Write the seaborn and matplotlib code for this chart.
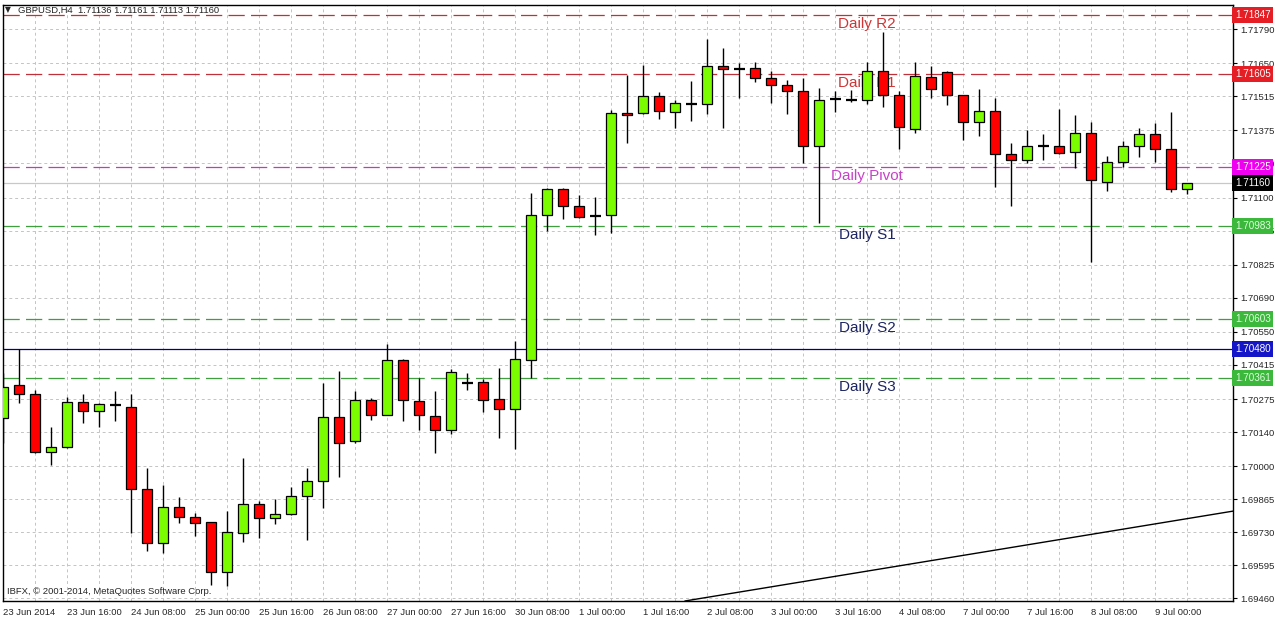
import matplotlib
matplotlib.use("Agg")
import matplotlib.pyplot as plt
import matplotlib.transforms as mtransforms
import numpy as np
import seaborn as sns

# GBPUSD H4 candles, 23 Jun 2014 00:00 .. 9 Jul 2014 08:00
opens = [1.70197, 1.70332, 1.70296, 1.70058, 1.70078, 1.70263, 1.70226, 1.70250, 1.70242, 1.69906,
         1.69685, 1.69833, 1.69792, 1.69771, 1.69567, 1.69726, 1.69845, 1.69788, 1.69804, 1.69878,
         1.69939, 1.70201, 1.70103, 1.70271, 1.70210, 1.70435, 1.70267, 1.70205, 1.70148, 1.70341,
         1.70345, 1.70275, 1.70234, 1.70435, 1.71029, 1.71135, 1.71065, 1.71024, 1.71029, 1.71446,
         1.71446, 1.71516, 1.71450, 1.71483, 1.71483, 1.71639, 1.71626, 1.71630, 1.71590, 1.71561,
         1.71536, 1.71311, 1.71504, 1.71499, 1.71499, 1.71618, 1.71520, 1.71381, 1.71594, 1.71614,
         1.71520, 1.71409, 1.71454, 1.71278, 1.71254, 1.71311, 1.71311, 1.71287, 1.71364, 1.71164,
         1.71246, 1.71311, 1.71360, 1.71299, 1.71136]
highs = [1.70382, 1.70480, 1.70312, 1.70160, 1.70283, 1.70296, 1.70259, 1.70308, 1.70296, 1.69992,
         1.69923, 1.69874, 1.69808, 1.69772, 1.69816, 1.70033, 1.69857, 1.69866, 1.69915, 1.69992,
         1.70341, 1.70390, 1.70308, 1.70279, 1.70500, 1.70437, 1.70361, 1.70308, 1.70398, 1.70382,
         1.70357, 1.70402, 1.70513, 1.71119, 1.71139, 1.71139, 1.71110, 1.71102, 1.71458, 1.71602,
         1.71643, 1.71532, 1.71499, 1.71577, 1.71749, 1.71712, 1.71651, 1.71655, 1.71618, 1.71581,
         1.71590, 1.71549, 1.71536, 1.71540, 1.71655, 1.71778, 1.71536, 1.71655, 1.71639, 1.71618,
         1.71522, 1.71545, 1.71508, 1.71323, 1.71377, 1.71360, 1.71463, 1.71438, 1.71409, 1.71270,
         1.71332, 1.71385, 1.71405, 1.71450, 1.71161]
lows = [1.70095, 1.70259, 1.70055, 1.70005, 1.70075, 1.70177, 1.70160, 1.70185, 1.69726, 1.69653,
        1.69644, 1.69767, 1.69714, 1.69513, 1.69509, 1.69689, 1.69706, 1.69763, 1.69800, 1.69698,
        1.69829, 1.69956, 1.70095, 1.70189, 1.70208, 1.70185, 1.70148, 1.70054, 1.70132, 1.70312,
        1.70222, 1.70115, 1.70070, 1.70361, 1.70963, 1.71012, 1.71018, 1.70947, 1.70955, 1.71323,
        1.71444, 1.71422, 1.71385, 1.71413, 1.71442, 1.71385, 1.71508, 1.71573, 1.71487, 1.71442,
        1.71241, 1.70996, 1.71450, 1.71491, 1.71483, 1.71471, 1.71299, 1.71364, 1.71508, 1.71479,
        1.71336, 1.71352, 1.71143, 1.71065, 1.71241, 1.71254, 1.71280, 1.71221, 1.70836, 1.71127,
        1.71225, 1.71266, 1.71246, 1.71123, 1.71113]
closes = [1.70324, 1.70296, 1.70058, 1.70078, 1.70263, 1.70226, 1.70255, 1.70250, 1.69906, 1.69685,
          1.69833, 1.69792, 1.69767, 1.69567, 1.69730, 1.69845, 1.69788, 1.69804, 1.69878, 1.69939,
          1.70201, 1.70095, 1.70271, 1.70210, 1.70435, 1.70271, 1.70210, 1.70148, 1.70386, 1.70341,
          1.70271, 1.70234, 1.70439, 1.71029, 1.71135, 1.71065, 1.71020, 1.71024, 1.71446, 1.71438,
          1.71516, 1.71454, 1.71487, 1.71483, 1.71639, 1.71626, 1.71626, 1.71590, 1.71561, 1.71536,
          1.71311, 1.71499, 1.71504, 1.71499, 1.71618, 1.71520, 1.71389, 1.71598, 1.71545, 1.71520,
          1.71409, 1.71454, 1.71278, 1.71254, 1.71311, 1.71311, 1.71282, 1.71364, 1.71172, 1.71246,
          1.71311, 1.71360, 1.71299, 1.71136, 1.71160]

time_labels = ["23 Jun 2014", "23 Jun 16:00", "24 Jun 08:00", "25 Jun 00:00", "25 Jun 16:00",
               "26 Jun 08:00", "27 Jun 00:00", "27 Jun 16:00", "30 Jun 08:00", "1 Jul 00:00",
               "1 Jul 16:00", "2 Jul 08:00", "3 Jul 00:00", "3 Jul 16:00", "4 Jul 08:00",
               "7 Jul 00:00", "7 Jul 16:00", "8 Jul 08:00", "9 Jul 00:00"]
price_ticks = [1.71790, 1.71650, 1.71515, 1.71375, 1.71240, 1.71100, 1.70965, 1.70825, 1.70690,
               1.70550, 1.70415, 1.70275, 1.70140, 1.70000, 1.69865, 1.69730, 1.69595, 1.69460]

# daily pivot levels
level_names = ["Daily R2", "Daily R1", "Daily Pivot", "Daily S1", "Daily S2", "Daily S3"]
level_prices = [1.71847, 1.71605, 1.71225, 1.70983, 1.70603, 1.70361]
level_line_colors = ["#c0303a", "#c0303a", "#c43cb0", "#3f9f3f", "#3f9f3f", "#3f9f3f"]
level_text_colors = ["#d03434", "#d03434", "#c842c8", "#1c2462", "#1c2462", "#1c2462"]
level_box_colors = ["#e41e24", "#e41e24", "#f000f0", "#3cb83c", "#3cb83c", "#3cb83c"]

current_price = 1.71160
blue_line = 1.70480

# trend line anchors (bar index, price)
trend_x = [42.6, 76.86]
trend_y = [1.69448, 1.69816]

sns.set_style("white")
plt.rcParams["font.family"] = ["Liberation Sans", "DejaVu Sans"]

fig = plt.figure(figsize=(12.76, 6.19), dpi=100)
ax = fig.add_axes([0.00212, 0.02908, 0.96418, 0.96284])

idx = np.arange(len(opens))
o = np.array(opens)
h = np.array(highs)
l = np.array(lows)
c = np.array(closes)

# grid
ax.set_xticks(idx[::4])
ax.set_xticks(idx[::2], minor=True)
ax.set_yticks(price_ticks)
ax.grid(True, which="both", axis="x", color="#c4c4c4", linestyle=(0, (3, 3)), linewidth=0.7)
ax.grid(True, which="major", axis="y", color="#c4c4c4", linestyle=(0, (3, 3)), linewidth=0.7)

# level lines
for p, col in zip(level_prices, level_line_colors):
    ax.axhline(p, color=col, linewidth=0.9, linestyle=(0, (13, 5)), zorder=1)
ax.axhline(current_price, color="#c8c8c8", linewidth=0.9, zorder=1)
ax.axhline(blue_line, color="#000080", linewidth=0.9, zorder=1)

for name, p, col in zip(level_names, level_prices, level_text_colors):
    ax.annotate(name, xy=(54, p), xytext=(0, -1.5), textcoords="offset points",
                ha="center", va="top", fontsize=11, color=col, zorder=1.5)

# candles
ax.vlines(idx, l, h, color="black", linewidth=1.0, zorder=2)
doji = np.abs(c - o) < 0.00002
up = (c > o) & ~doji
down = (c < o) & ~doji
ax.bar(idx[up], (c - o)[up], bottom=o[up], width=0.625, color="#7cfc00",
       edgecolor="black", linewidth=0.9, zorder=3)
ax.bar(idx[down], (c - o)[down], bottom=o[down], width=0.625, color="#ff0000",
       edgecolor="black", linewidth=0.9, zorder=3)
ax.hlines(o[doji], idx[doji] - 0.33, idx[doji] + 0.33, color="black", linewidth=1.6, zorder=3)

sns.lineplot(x=trend_x, y=trend_y, ax=ax, color="black", linewidth=1.0, zorder=4)

ax.set_xlim(-0.04, 76.86)
ax.set_ylim(1.69448, 1.718885)

# axes cosmetics
for s in ax.spines.values():
    s.set_color("black")
    s.set_linewidth(1.0)
ax.yaxis.tick_right()
ax.set_yticklabels([f"{p:.5f}" for p in price_ticks], fontsize=6.8)
ax.set_xticklabels(time_labels, fontsize=6.8, ha="left")
ax.tick_params(axis="y", which="major", length=3, width=0.8, pad=2, color="black")
ax.tick_params(axis="x", which="major", length=3, width=0.8, pad=2, color="black")
ax.tick_params(axis="x", which="minor", length=0)
ax.set_xlabel("")
ax.set_ylabel("")

# price tags on the right axis (they cover the tick label beneath, as in the terminal)
trans = mtransforms.blended_transform_factory(ax.transAxes, ax.transData)
tag_prices = level_prices + [current_price, blue_line]
tag_colors = level_box_colors + ["black", "#1414c8"]
for p, col in zip(tag_prices, tag_colors):
    tc = "#e0ffe0" if col == "#3cb83c" else "white"
    ax.text(1.0016, p, f"{p:.5f}", transform=trans, ha="left", va="center", fontsize=7.1,
            color=tc, clip_on=False, zorder=10,
            bbox=dict(boxstyle="square,pad=0.28", fc=col, ec="none"))

fig.text(5 / 1276, 1 - 10 / 619, "\u25bc", fontsize=5.5, va="center", ha="left",
         family="DejaVu Sans")
fig.text(18 / 1276, 1 - 10 / 619, "GBPUSD,H4  1.71136 1.71161 1.71113 1.71160",
         fontsize=6.8, va="center", ha="left")
fig.text(7 / 1276, 1 - 592 / 619, "IBFX, \u00a9 2001-2014, MetaQuotes Software Corp.",
         fontsize=6.8, va="center", ha="left")

fig.savefig("out.png", dpi=100)
